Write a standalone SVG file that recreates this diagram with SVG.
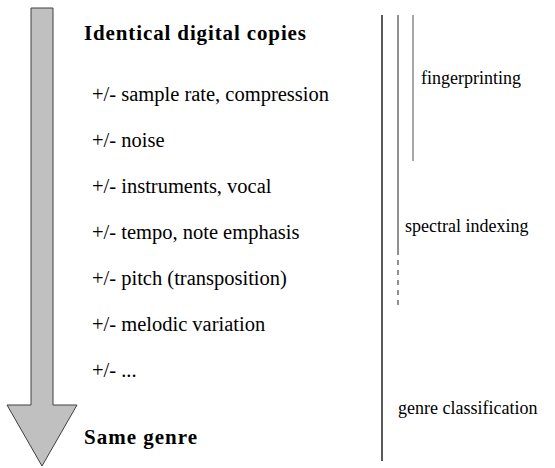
<svg xmlns="http://www.w3.org/2000/svg" width="555" height="468" viewBox="0 0 555 468">
<style>
text{fill:#000}
.h{font-family:"Liberation Serif",serif;font-size:21px;font-weight:bold}
.i{font-family:"Liberation Serif",serif;font-size:20.5px}
.r{font-family:"Liberation Serif",serif;font-size:18px}
</style>
<rect width="555" height="468" fill="#fff"/>
<g id="arrow">
<path d="M31,8 H53 V405 H77 L42,466 L7,405 H31 Z" fill="#c0c0c0" stroke="#404040" stroke-width="1"/>
</g>
<g id="labels">
<text class="h" x="84" y="40" textLength="222" lengthAdjust="spacing">Identical digital copies</text>
<text class="i" x="92" y="101">+/- sample rate, compression</text>
<text class="i" x="92" y="147">+/- noise</text>
<text class="i" x="92" y="193">+/- instruments, vocal</text>
<text class="i" x="92" y="239">+/- tempo, note emphasis</text>
<text class="i" x="92" y="285">+/- pitch (transposition)</text>
<text class="i" x="92" y="331">+/- melodic variation</text>
<text class="i" x="92" y="377">+/- ...</text>
<text class="h" x="84" y="444" textLength="113" lengthAdjust="spacing">Same genre</text>
</g>
<g id="connectors">
<line x1="382" y1="15" x2="382" y2="461" stroke="#000" stroke-width="1.3"/>
<line x1="398" y1="15" x2="398" y2="250" stroke="#555" stroke-width="1.3"/>
<line x1="398" y1="250" x2="398" y2="306" stroke="#555" stroke-width="1.3" stroke-dasharray="5,5"/>
<line x1="413" y1="15" x2="413" y2="161" stroke="#777" stroke-width="1.3"/>
</g>
<g id="methods">
<text class="r" x="421" y="84">fingerprinting</text>
<text class="r" x="405" y="232">spectral indexing</text>
<text class="r" x="398" y="414">genre classification</text>
</g>
</svg>
